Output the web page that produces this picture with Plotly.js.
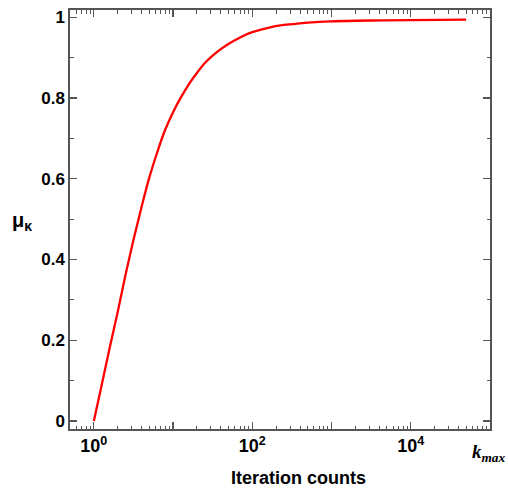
<!DOCTYPE html>
<html>
<head>
<meta charset="utf-8">
<script src="https://cdn.plot.ly/plotly-3.0.1.min.js"></script>
<style>html,body{margin:0;padding:0;background:#fff;}#chart{width:508px;height:490px;}</style>
</head>
<body>
<div id="chart"></div>
<script>
// Iteration counts (k) and mu_kappa values
var kValues  = [1, 1.26, 1.58, 2, 2.5, 3.16, 4, 5, 6.3, 7.9, 10, 12.6, 15.8, 20, 25, 31.6, 40, 50, 63, 79, 100, 158, 251, 398, 631, 1000, 3160, 10000, 50000];
var muValues = [0, 0.09, 0.18, 0.27, 0.36, 0.448, 0.53, 0.602, 0.665, 0.72, 0.765, 0.802, 0.834, 0.862, 0.886, 0.905, 0.921, 0.934, 0.945, 0.955, 0.963, 0.974, 0.981, 0.985, 0.988, 0.990, 0.992, 0.993, 0.994];

var xTickVals = [1, 10, 100, 1000, 10000, 100000];
var xTickText = ['<b>10<sup>0</sup></b>', '', '<b>10<sup>2</sup></b>', '', '<b>10<sup>4</sup></b>', ''];
var xMinorVals = [];
[0.1, 1, 10, 100, 1000, 10000].forEach(function (d) {
  for (var m = 2; m <= 9; m++) xMinorVals.push(m * d);
});
var yTickVals = [0, 0.2, 0.4, 0.6, 0.8, 1];
var yTickText = ['<b>0</b>', '<b>0.2</b>', '<b>0.4</b>', '<b>0.6</b>', '<b>0.8</b>', '<b>1</b>'];

var axisColor = '#555';
var family = 'Liberation Sans, Arial, sans-serif';

var trace = {
  x: kValues, y: muValues, type: 'scatter', mode: 'lines',
  line: {color: '#ff0000', width: 2.3, shape: 'spline', smoothing: 1},
  hoverinfo: 'skip'
};

var layout = {
  width: 508, height: 490,
  margin: {l: 70, r: 18, t: 10, b: 61},
  paper_bgcolor: '#fff', plot_bgcolor: '#fff',
  showlegend: false,
  font: {family: family, size: 17, color: '#000'},
  xaxis: {
    type: 'log', range: [Math.log10(0.5), Math.log10(100000)],
    tickmode: 'array', tickvals: xTickVals, ticktext: xTickText,
    ticks: 'inside', ticklen: 7, tickwidth: 1.2, tickcolor: axisColor,
    minor: {tickmode: 'array', tickvals: xMinorVals, ticks: 'inside', ticklen: 3.5, tickwidth: 1, tickcolor: axisColor},
    showline: true, linecolor: axisColor, linewidth: 1.6, mirror: 'ticks',
    showgrid: false, zeroline: false,
    tickfont: {family: family, size: 18, color: '#000'}
  },
  yaxis: {
    range: [-0.02, 1.018],
    tickmode: 'array', tickvals: yTickVals, ticktext: yTickText,
    ticks: 'inside', ticklen: 7, tickwidth: 1.2, tickcolor: axisColor,
    minor: {dtick: 0.1, ticks: 'inside', ticklen: 3.5, tickwidth: 1, tickcolor: axisColor},
    showline: true, linecolor: axisColor, linewidth: 1.6, mirror: 'ticks',
    showgrid: false, zeroline: false,
    tickfont: {family: family, size: 17, color: '#000'}
  },
  annotations: [
    {xref: 'paper', yref: 'paper', x: 0.545, y: -0.117, xanchor: 'center', yanchor: 'middle',
     text: '<b>Iteration counts</b>', showarrow: false, font: {family: family, size: 18, color: '#000'}},
    {xref: 'paper', yref: 'paper', x: -0.115, y: 0.495, xanchor: 'center', yanchor: 'middle',
     text: '<b>μ<sub>κ</sub></b>', showarrow: false, font: {family: family, size: 20, color: '#000'}},
    {xref: 'paper', yref: 'paper', x: 1.04, y: -0.057, xanchor: 'right', yanchor: 'middle',
     text: '<b><i>k<sub>max</sub></i></b>', showarrow: false, font: {family: 'Liberation Serif, Times New Roman, serif', size: 19, color: '#000'}}
  ]
};

Plotly.newPlot('chart', [trace], layout, {displayModeBar: false, staticPlot: true});
</script>
</body>
</html>
